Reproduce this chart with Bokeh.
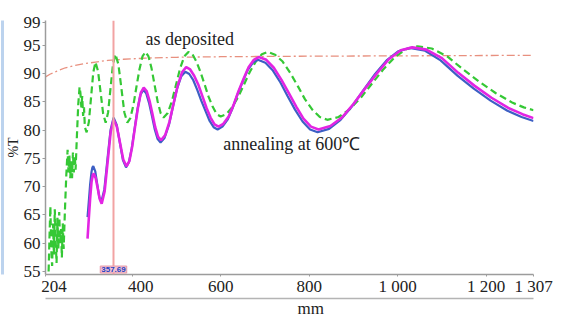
from bokeh.plotting import figure
from bokeh.models import Range1d, FixedTicker, Span, Label, LinearAxis
from bokeh.embed import file_html
from bokeh.resources import INLINE

# ---------------- data ----------------
green_nm = [211, 213, 215, 217, 219, 221, 223, 225, 227, 229,
            231, 233, 235, 237, 239, 241, 243, 245, 248, 251,
            254, 256, 258, 260, 262, 264, 266, 268, 270, 272,
            275, 278, 281, 283, 285, 287, 289, 291, 293, 297,
            302, 307, 312, 317,
            322.75, 328.5, 334.25, 340,
            345.5, 351, 356.5, 362,
            368.75, 375.5, 382.25, 389,
            395.8, 402.7, 409.5, 416.3, 423.2, 430,
            436.8, 443.7, 450.5, 457.3, 464.2, 471,
            480.3, 489.7, 499, 508.3, 517.7, 527,
            536, 545, 554, 563.5, 572.5, 582, 591, 600,
            613, 626.5, 640, 653, 666, 679.5, 693, 706,
            723, 740, 757, 774, 790, 807, 824, 841,
            866.5, 892, 917.5, 943, 968.5, 994, 1019.5, 1045,
            1077, 1112, 1148, 1185, 1222, 1260, 1285, 1307]
green_T = [55.0, 61.0, 66.5, 59.0, 56.0, 63.5, 58.0, 66.0, 60.5, 56.5,
           64.5, 59.0, 65.5, 60.0, 62.5, 57.5, 63.5, 59.0, 66.0, 72.0,
           76.5, 72.5, 75.5, 71.5, 74.5, 71.5, 76.0, 72.5, 75.5, 73.0,
           79.0, 84.5, 87.6, 86.5, 84.0, 86.0, 82.5, 84.0, 80.5, 79.6,
           81.4, 85.8, 90.2, 92.0,
           90.4, 86.7, 82.9, 81.3,
           83.1, 87.4, 91.6, 93.4,
           91.6, 87.4, 83.1, 81.3,
           82.1, 84.4, 87.6, 90.7, 93.0, 93.8,
           93.0, 90.9, 88.0, 85.1, 83.0, 82.2,
           83.0, 85.1, 88.0, 90.9, 93.0, 93.8,
           93.4, 92.1, 90.3, 88.1, 85.9, 84.1, 82.8, 82.4,
           82.8, 84.1, 85.9, 88.1, 90.3, 92.1, 93.4, 93.8,
           93.3, 92.1, 90.1, 87.8, 85.5, 83.6, 82.3, 81.8,
           82.3, 83.7, 85.8, 88.3, 90.8, 92.9, 94.3, 94.8,
           94.4, 93.0, 90.7, 88.5, 86.5, 84.8, 84.0, 83.5]

blue_nm = [299, 302, 305, 308, 310, 312,
           316.5, 321, 325.5, 330,
           337, 344, 351, 358,
           365, 372, 379, 386,
           392.5, 399, 405.5, 412, 418.5, 425,
           431.5, 438, 444.5, 451, 457.5, 464,
           473, 483, 492, 501, 511, 520,
           529, 538, 547, 556, 566, 575, 584, 593,
           604, 616, 627, 638, 650, 661, 673, 684,
           701, 718, 735, 751, 768, 785, 802, 819,
           845, 871, 897, 923, 949, 975, 1001, 1027,
           1062, 1097, 1135, 1172, 1210, 1248, 1280, 1307]
blue_T = [64.6, 67.5, 70.5, 72.6, 73.4, 73.6,
          72.7, 70.4, 68.2, 67.3,
          69.5, 74.8, 80.0, 82.2,
          80.9, 77.8, 74.7, 73.4,
          74.3, 76.8, 80.3, 83.7, 86.2, 87.1,
          86.5, 84.8, 82.5, 80.1, 78.4, 77.8,
          78.6, 80.9, 84.1, 87.2, 89.5, 90.3,
          89.9, 88.8, 87.1, 85.2, 83.3, 81.6, 80.5, 80.1,
          80.6, 81.9, 83.9, 86.3, 88.6, 90.6, 91.9, 92.4,
          91.9, 90.5, 88.4, 86.0, 83.6, 81.5, 80.1, 79.6,
          80.2, 81.8, 84.2, 87.1, 89.9, 92.3, 93.9, 94.5,
          94.0, 92.3, 89.6, 87.3, 85.2, 83.4, 82.3, 81.6]

magenta_nm = [299, 302, 305, 308, 311, 313,
              317.5, 322, 326.5, 331,
              337.75, 344.5, 351.25, 358,
              365.25, 372.5, 379.75, 387,
              393.5, 400, 406.5, 413, 419.5, 426,
              432.5, 439, 445.5, 452, 458.5, 465,
              474.5, 484, 493.5, 503, 512.5, 522,
              531, 540, 550, 559, 568, 577, 586, 595,
              606, 618, 629, 640, 652, 663, 675, 686,
              703, 720, 737, 754, 771, 787, 804, 821,
              848, 874, 900, 927, 954, 980, 1007, 1033,
              1065, 1100, 1137, 1174, 1212, 1250, 1282, 1307]
magenta_T = [60.8, 64.5, 68.0, 70.8, 72.1, 72.3,
             71.5, 69.7, 67.8, 67.0,
             69.2, 74.4, 79.6, 81.8,
             80.6, 77.7, 74.8, 73.6,
             74.5, 77.1, 80.6, 84.0, 86.6, 87.5,
             86.9, 85.2, 82.9, 80.5, 78.8, 78.2,
             79.1, 81.4, 84.7, 87.9, 90.2, 91.1,
             90.7, 89.6, 87.9, 85.9, 83.9, 82.2, 81.0, 80.6,
             81.1, 82.4, 84.4, 86.8, 89.1, 91.1, 92.4, 92.9,
             92.4, 91.0, 88.9, 86.5, 84.1, 82.0, 80.6, 80.1,
             80.7, 82.2, 84.6, 87.4, 90.1, 92.5, 94.1, 94.6,
             94.2, 92.7, 90.1, 87.8, 85.7, 83.9, 82.8, 82.1]

ref_nm = [204, 215, 230, 249, 270, 290, 317, 345, 380, 430, 500, 600, 800, 1000, 1307]
ref_T = [89.4, 89.9, 90.4, 91.0, 91.4, 91.7, 92.0, 92.3, 92.5, 92.7, 92.85, 92.95, 93.05, 93.1, 93.2]

cursor_nm = 357.69
x_ticks = [204, 400, 600, 800, 1000, 1200, 1307]
x_tick_labels = ["\u2007\u2007204", "\u2007\u2007400", "600", "800", "1 000", "1 200", "1 307"]
y_ticks = [55, 60, 65, 70, 75, 80, 85, 90, 95, 99]
label_deposited = "as deposited"
label_annealed = "annealing at 600\u2103"
x_title = "\u2007\u2007\u2007\u2007\u2007mm"
y_title = "%T"

# ---------------- figure ----------------
W, H = 565, 320
p = figure(width=W, height=H, output_backend="svg", toolbar_location=None,
           x_range=Range1d(204, 1307), y_range=Range1d(54.474, 99.35),
           min_border_left=45, min_border_right=32, min_border_top=20, min_border_bottom=44)
p.outline_line_color = None
p.background_fill_color = "white"
p.border_fill_color = "white"
p.grid.visible = False

serif = "Liberation Serif"
for ax in (p.xaxis[0], p.yaxis[0]):
    ax.axis_line_color = "#9c9c9c"
    ax.axis_line_width = 1.5
    ax.major_tick_line_color = "#9c9c9c"
    ax.minor_tick_line_color = None
    ax.major_tick_in = 0
    ax.major_label_text_font = serif
    ax.major_label_text_font_size = "17px"
    ax.major_label_text_color = "#222222"

p.xaxis.ticker = FixedTicker(ticks=x_ticks)
p.xaxis.major_label_overrides = {t: s for t, s in zip(x_ticks, x_tick_labels)}
p.xaxis.major_tick_out = 2
p.xaxis.major_label_standoff = 0

p.yaxis.ticker = FixedTicker(ticks=y_ticks)
p.yaxis.major_tick_out = 3
p.yaxis.major_label_standoff = 2
p.yaxis.axis_label = y_title
p.yaxis.axis_label_text_font = serif
p.yaxis.axis_label_text_font_size = "14px"
p.yaxis.axis_label_text_font_style = "normal"
p.yaxis.axis_label_text_color = "#222222"
p.yaxis.axis_label_standoff = 0

# window-edge lines (plain axis lines, no ticks); the lower one carries the x title
edge_bottom = LinearAxis(ticker=FixedTicker(ticks=[]), axis_line_color="#b4b4b4", axis_line_width=1.5,
                         major_tick_line_color=None, minor_tick_line_color=None,
                         major_label_text_font_size="0px",
                         axis_label=x_title, axis_label_text_font=serif,
                         axis_label_text_font_size="17px", axis_label_text_font_style="normal",
                         axis_label_text_color="#222222", axis_label_standoff=0)
p.add_layout(edge_bottom, "below")
edge_left = LinearAxis(ticker=FixedTicker(ticks=[]), axis_line_color="#bcd3ee", axis_line_width=3,
                       major_tick_line_color=None, minor_tick_line_color=None,
                       major_label_text_font_size="0px")
p.add_layout(edge_left, "left")

# reference / baseline curve
p.line(ref_nm, ref_T, line_color="#e8907f", line_width=1.3, line_dash="8 3 2 3")
# as deposited
p.line(green_nm, green_T, line_color="#35c835", line_width=2.2, line_dash="7 4")
# annealed curves
p.line(blue_nm, blue_T, line_color="#3d5fc4", line_width=2.2)
p.line(magenta_nm, magenta_T, line_color="#e324e3", line_width=2.6)

# cursor
p.add_layout(Span(location=cursor_nm, dimension="height", line_color="#f2a3a3", line_width=2))
p.add_layout(Label(x=cursor_nm, y=55.35, text=f"{cursor_nm:.2f}", text_font="Liberation Sans",
                   text_font_size="8px", text_font_style="bold", text_color="#1f3fc4",
                   text_align="center", text_baseline="middle",
                   background_fill_color="#f5c3cf", border_line_color="#e598a8", padding=1))

# annotations
p.add_layout(Label(x=430, y=96.05, text=label_deposited, text_font=serif, text_font_size="18px",
                   text_color="#222222", text_align="left", text_baseline="middle"))
p.add_layout(Label(x=606, y=77.5, text=label_annealed, text_font=serif, text_font_size="18px",
                   text_color="#222222", text_align="left", text_baseline="middle"))

open("out.html", "w").write(file_html(p, INLINE))
